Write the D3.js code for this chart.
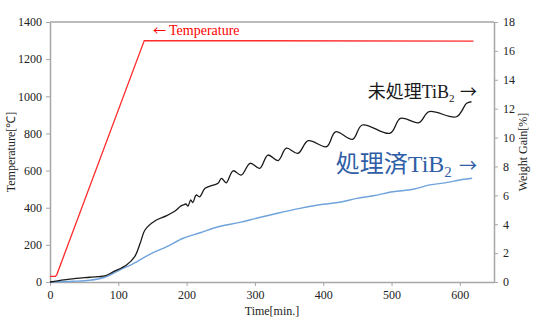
<!DOCTYPE html>
<html><head><meta charset="utf-8">
<script src="https://cdn.jsdelivr.net/npm/d3@7/dist/d3.min.js"></script>
<style>body{margin:0;background:#fff}svg{display:block}</style>
</head><body><svg id="c" width="537" height="328"></svg>
<script>
// Temperature series (left axis, °C)
const tempTime = [0, 8, 10, 138, 620];
const tempValue = [30, 30, 40, 1300, 1297];
// Untreated TiB2 (right axis, weight gain %)
const untreatedTime = [0, 29, 58, 80, 93, 112, 124, 132, 139, 154, 171, 185, 190, 195, 199, 202, 206, 209, 214, 219, 227, 239, 246, 251, 258, 268, 280, 293, 307, 319, 334, 346, 363, 378, 405, 418, 443, 457, 498, 513, 540, 555, 595, 610, 617];
const untreatedValue = [0, 0.2, 0.33, 0.42, 0.72, 1.18, 1.76, 2.68, 3.6, 4.24, 4.59, 4.98, 5.21, 5.33, 5.40, 5.26, 5.68, 5.49, 6.02, 5.9, 6.49, 6.71, 6.83, 7.18, 6.87, 7.7, 7.4, 8.22, 7.87, 8.79, 8.4, 9.26, 8.91, 9.78, 9.37, 10.4, 9.88, 10.87, 10.3, 11.33, 11.03, 11.79, 11.44, 12.37, 12.48];
// Treated TiB2 (right axis, weight gain %)
const treatedTime = [0, 34, 58, 80, 102, 127, 146, 171, 195, 220, 244, 278, 302, 327, 366, 400, 424, 449, 473, 502, 532, 556, 580, 600, 618];
const treatedValue = [0, 0.05, 0.12, 0.33, 0.83, 1.4, 1.92, 2.45, 3.03, 3.41, 3.79, 4.13, 4.41, 4.69, 5.1, 5.38, 5.52, 5.79, 5.97, 6.25, 6.42, 6.72, 6.88, 7.06, 7.18];
// Tick labels
const xTicks = [0, 100, 200, 300, 400, 500, 600];
const tempTicks = [0, 200, 400, 600, 800, 1000, 1200, 1400];
const weightTicks = [0, 2, 4, 6, 8, 10, 12, 14, 16, 18];

const svg = d3.select("#c");
const serif = "'Liberation Serif','Times New Roman',serif";
const cjk = "'Liberation Serif','Noto Sans CJK JP',serif";
const arrowFont = "'Noto Sans CJK JP',sans-serif";
const x = d3.scaleLinear().domain([0, 650]).range([50, 494]);
const yT = d3.scaleLinear().domain([0, 1400]).range([282, 22]);
const yW = d3.scaleLinear().domain([0, 18]).range([282, 22]);
const axisColor = "#a6a6a6";
const fmt = d3.format("d");

function style(g) {
  g.selectAll("path.domain").attr("stroke", axisColor).attr("stroke-width", 1.5);
  g.selectAll(".tick line").attr("stroke", axisColor).attr("stroke-width", 1);
  g.selectAll(".tick text").attr("font-family", serif).attr("font-size", 12).attr("fill", "#222");
}
// top border
svg.append("line").attr("x1", x(0)).attr("x2", x(650)).attr("y1", yT(1400)).attr("y2", yT(1400))
  .attr("stroke", axisColor).attr("stroke-width", 1.5);

svg.append("g").attr("transform", "translate(0,282)")
  .call(d3.axisBottom(x).tickValues(xTicks).tickFormat(fmt).tickSize(4).tickSizeOuter(0).tickPadding(4)).call(style);
svg.append("g").attr("transform", "translate(50,0)")
  .call(d3.axisLeft(yT).tickValues(tempTicks).tickFormat(fmt).tickSize(4).tickSizeOuter(0).tickPadding(4)).call(style);
svg.append("g").attr("transform", "translate(494,0)")
  .call(d3.axisRight(yW).tickValues(weightTicks).tickFormat(fmt).tickSize(4).tickSizeOuter(0).tickPadding(5)).call(style);

// lines
const tempData = tempTime.map((t, i) => [t, tempValue[i]]);
const untreated = untreatedTime.map((t, i) => [t, untreatedValue[i]]);
const treated = treatedTime.map((t, i) => [t, treatedValue[i]]);

svg.append("path").datum(treated).attr("fill", "none").attr("stroke", "#6fa3dc").attr("stroke-width", 1.4)
  .attr("d", d3.line().x(d => x(d[0])).y(d => yW(d[1])).curve(d3.curveMonotoneX));
svg.append("path").datum(untreated).attr("fill", "none").attr("stroke", "#1a1a1a").attr("stroke-width", 1.3)
  .attr("d", d3.line().x(d => x(d[0])).y(d => yW(d[1])).curve(d3.curveCatmullRom.alpha(0.5)));
svg.append("path").datum(tempData).attr("fill", "none").attr("stroke", "#ff2a2a").attr("stroke-width", 1.3)
  .attr("d", d3.line().x(d => x(d[0])).y(d => yT(d[1])));

// axis titles
svg.append("text").attr("x", 272).attr("y", 315).attr("text-anchor", "middle")
  .attr("font-family", serif).attr("font-size", 12).attr("fill", "#222").text("Time[min.]");
svg.append("text").attr("transform", "translate(15,152) rotate(-90)").attr("text-anchor", "middle")
  .attr("font-family", serif).attr("font-size", 12).attr("fill", "#222").text("Temperature[℃]");
svg.append("text").attr("transform", "translate(527,152) rotate(-90)").attr("text-anchor", "middle")
  .attr("font-family", serif).attr("font-size", 12).attr("fill", "#222").text("Weight Gain[%]");

// annotations
const tl = svg.append("text").attr("x", 153).attr("y", 35).attr("font-family", serif).attr("font-size", 14)
  .attr("fill", "#ff0000");
tl.append("tspan").attr("font-family", arrowFont).attr("font-size", 13).text("←");
tl.append("tspan").attr("dx", 3).text("Temperature");

function label(xp, yp, size, color, prefix, arrowSize) {
  const t = svg.append("text").attr("x", xp).attr("y", yp).attr("text-anchor", "end")
    .attr("font-family", cjk).attr("font-size", size).attr("fill", color);
  t.append("tspan").text(prefix + "TiB");
  t.append("tspan").attr("font-size", size * 0.62).attr("dy", size * 0.2).text("2");
  t.append("tspan").attr("dy", -size * 0.2).attr("dx", size * 0.3)
    .attr("font-family", arrowFont).attr("font-size", arrowSize).text("→");
}
label(477, 98, 18, "#1a1a1a", "未処理", 17);
label(477, 172, 24, "#2f5ea6", "処理済", 18);
</script></body></html>
